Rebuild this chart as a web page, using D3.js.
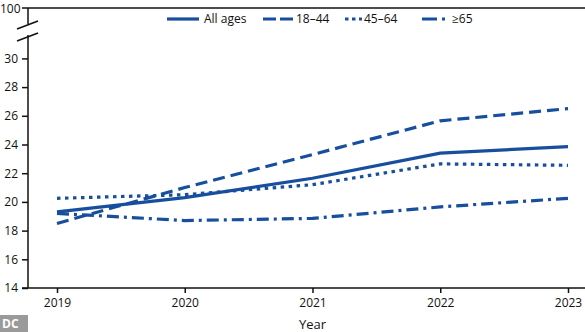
<!DOCTYPE html>
<html><head><meta charset="utf-8">
<script src="https://cdn.jsdelivr.net/npm/d3@7"></script>
<style>body{margin:0;background:#fff}svg{display:block}text{font-family:"Open Sans","Noto Sans",sans-serif;fill:#111}</style>
</head><body><svg id="c" width="585" height="332"></svg>
<script>
const years = [2019, 2020, 2021, 2022, 2023];
const allAges = [19.3, 20.3, 21.65, 23.4, 23.85];
const age18_44 = [18.5, 21.0, 23.3, 25.65, 26.5];
const age45_64 = [20.25, 20.5, 21.2, 22.65, 22.55];
const age65plus = [19.2, 18.7, 18.85, 19.65, 20.25];
const seriesNames = ["All ages", "18\u201344", "45\u201364", "\u226565"];
const yTicks = [14, 16, 18, 20, 22, 24, 26, 28, 30];
const topTick = 100;

const color = "#174e9e";
const dashes = [null, "12,6", "3.5,4.5", "12,5,3,5"];
const series = [allAges, age18_44, age45_64, age65plus];

const svg = d3.select("#c");
const x = d3.scaleLinear().domain([2019, 2023]).range([57, 568]);
const y = d3.scaleLinear().domain([14, 30]).range([288, 58.4]);
const yTopPos = 8;
const axisX = 28;

// top line (100)
svg.append("line").attr("x1", 22).attr("x2", 585).attr("y1", yTopPos).attr("y2", yTopPos)
  .attr("stroke", "#111").attr("stroke-width", 1.5);
svg.append("text").attr("x", 0).attr("y", yTopPos + 1).attr("dy", "0.35em").attr("text-anchor", "start")
  .attr("font-size", 12).text(topTick);

// y axis with break
svg.append("line").attr("x1", axisX).attr("x2", axisX).attr("y1", yTopPos).attr("y2", 24)
  .attr("stroke", "#111").attr("stroke-width", 1.5);
svg.append("line").attr("x1", axisX).attr("x2", axisX).attr("y1", 35).attr("y2", 288)
  .attr("stroke", "#111").attr("stroke-width", 1.5);
[[29, 21], [41, 33]].forEach(([a, b]) => {
  svg.append("line").attr("x1", 17).attr("y1", a).attr("x2", 38).attr("y2", b)
    .attr("stroke", "#111").attr("stroke-width", 1.5);
});

const yAxis = svg.append("g").attr("transform", `translate(${axisX},0)`)
  .call(d3.axisLeft(y).tickValues(yTicks).tickSize(6).tickPadding(4));
yAxis.select(".domain").remove();
yAxis.selectAll("line").attr("stroke", "#111").attr("stroke-width", 1.5);
yAxis.selectAll("text").attr("font-size", 12).attr("font-family", '"Open Sans","Noto Sans",sans-serif').attr("fill", "#111");

// x axis
svg.append("line").attr("x1", 22).attr("x2", 585).attr("y1", 288).attr("y2", 288)
  .attr("stroke", "#111").attr("stroke-width", 1.5);
const xAxis = svg.append("g").attr("transform", "translate(0,288)")
  .call(d3.axisBottom(x).tickValues(years).tickFormat(d3.format("d")).tickSize(5).tickPadding(5));
xAxis.select(".domain").remove();
xAxis.selectAll("line").attr("stroke", "#111").attr("stroke-width", 1.5);
xAxis.selectAll("text").attr("font-size", 12).attr("font-family", '"Open Sans","Noto Sans",sans-serif').attr("fill", "#111");

svg.append("text").attr("x", x(2021)).attr("y", 329).attr("text-anchor", "middle")
  .attr("font-size", 13).text("Year");

// lines
const line = d3.line().x((d, i) => x(years[i])).y(d => y(d));
series.forEach((s, k) => {
  const p = svg.append("path").datum(s).attr("d", line).attr("fill", "none")
    .attr("stroke", color).attr("stroke-width", 3.2);
  if (dashes[k]) p.attr("stroke-dasharray", dashes[k]);
});

// legend
const legend = [
  {x1: 167, x2: 199, tx: 204},
  {x1: 263, x2: 293, tx: 296},
  {x1: 345, x2: 362, tx: 364},
  {x1: 422, x2: 448, tx: 452}
];
const ly = 19;
legend.forEach((l, k) => {
  const p = svg.append("line").attr("x1", l.x1).attr("x2", l.x2).attr("y1", ly).attr("y2", ly)
    .attr("stroke", color).attr("stroke-width", 3.2);
  if (dashes[k]) p.attr("stroke-dasharray", k === 1 ? "13,4" : k === 2 ? "3.5,3.5" : "15,5,3,5");
  svg.append("text").attr("x", l.tx).attr("y", ly).attr("dy", "0.35em").attr("font-size", 12).text(seriesNames[k]);
});

// watermark
svg.append("rect").attr("x", 0).attr("y", 315).attr("width", 28).attr("height", 17).attr("fill", "#9a9a9a");
svg.append("text").attr("x", 2).attr("y", 328).attr("font-size", 12).attr("font-weight", "bold")
  .style("fill", "#fff").text("DC");
</script></body></html>
